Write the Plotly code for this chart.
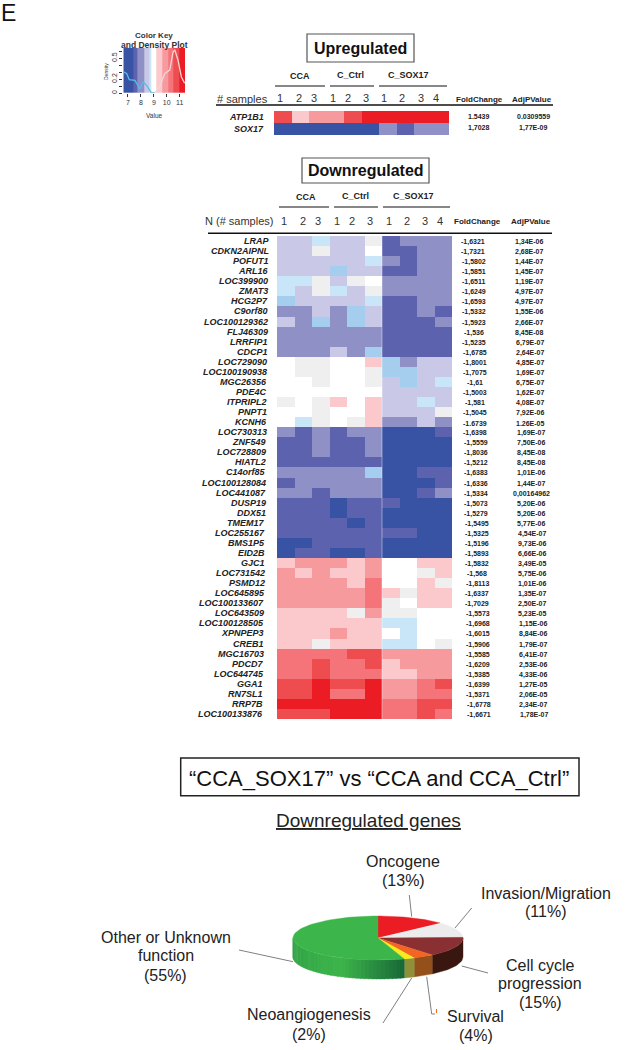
import numpy as np
import plotly.graph_objects as go

FONT = "Liberation Sans"
INK = "#222222"

# ---------- data ----------
palette = ["#3953a4", "#5c62ad", "#8e90c6", "#c9c9e7", "#a5cdee", "#c8e6f8", "#ffffff",
           "#efefef", "#fbc8cc", "#f79a9e", "#f4747a", "#ef4c50", "#ec1c24"]

sample_labels = ["1", "2", "3", "1", "2", "3", "1", "2", "3", "4"]
group_labels = ["CCA", "C_Ctrl", "C_SOX17"]

up_genes = ["ATP1B1", "SOX17"]
up_fold = ["1.5439", "1,7028"]
up_adj = ["0.0309559", "1,77E-09"]
up_levels = [
    [5, 2, 3, 3, 5, 6, 6, 6, 6, 6],
    [-6, -6, -6, -6, -6, -6, -4, -5, -4, -4],
]

down_genes = ["LRAP", "CDKN2AIPNL", "POFUT1", "ARL16", "LOC399900", "ZMAT3", "HCG2P7", "C9orf80",
              "LOC100129362", "FLJ46309", "LRRFIP1", "CDCP1", "LOC729090", "LOC100190938",
              "MGC26356", "PDE4C", "ITPRIPL2", "PNPT1", "KCNH6", "LOC730313", "ZNF549", "LOC728809",
              "HIATL2", "C14orf85", "LOC100128084", "LOC441087", "DUSP19", "DDX51", "TMEM17",
              "LOC255167", "BMS1P5", "EID2B", "GJC1", "LOC731542", "PSMD12", "LOC645895",
              "LOC100133607", "LOC643509", "LOC100128505", "XPNPEP3", "CREB1", "MGC16703", "PDCD7",
              "LOC644745", "GGA1", "RN7SL1", "RRP7B", "LOC100133876"]
down_fold = ["-1,6321", "-1,7321", "-1,5802", "-1,5851", "-1,6511", "-1,6249", "-1,6593", "-1,5332",
             "-1,5923", "-1,536", "-1,5235", "-1,6785", "-1,8001", "-1,7075", "-1,61", "-1,5003",
             "-1,581", "-1,5045", "-1.6739", "-1,6398", "-1,5559", "-1,8036", "-1,5212", "-1,6383",
             "-1,6336", "-1,5334", "-1,5073", "-1,5279", "-1,5495", "-1,5325", "-1,5196", "-1,5893",
             "-1,5832", "-1,568", "-1,8113", "-1,6337", "-1,7029", "-1,5573", "-1,6968", "-1,6015",
             "-1,5906", "-1,5585", "-1,6209", "-1,5385", "-1,6399", "-1,5371", "-1,6778", "-1,6671"]
down_adj = ["1,34E-06", "2,68E-07", "1,44E-07", "1,45E-07", "1,19E-07", "4,97E-07", "4,97E-07",
            "1,55E-06", "2,66E-07", "8,45E-08", "6,79E-07", "2,64E-07", "4,85E-07", "1,69E-07",
            "6,75E-07", "1,62E-07", "4,08E-07", "7,92E-06", "1.26E-05", "1,69E-07", "7,50E-06",
            "8,45E-08", "8,45E-08", "1,01E-06", "1,44E-07", "0,00164962", "5,20E-06", "5,20E-06",
            "5,77E-06", "4,54E-07", "9,73E-06", "6,66E-06", "3,49E-05", "5,75E-06", "1,01E-06",
            "1,35E-07", "2,50E-07", "5,23E-05", "1,15E-06", "8,84E-06", "1,79E-07", "6,41E-07",
            "2,53E-06", "4,33E-06", "1,27E-05", "2,06E-05", "2,34E-07", "1,78E-07"]
down_levels = [
    [-3, -3, -1, -3, -3, 1, -5, -4, -4, -4],
    [-3, -3, 1, -3, -3, 0, -5, -5, -4, -4],
    [-3, -3, -3, -3, -3, -1, -4, -5, -4, -4],
    [-3, -3, -3, -2, -3, -3, -5, -5, -4, -4],
    [-1, -1, 1, -3, 1, 0, -4, -4, -4, -4],
    [-1, -3, 1, -1, -3, 1, -4, -4, -4, -4],
    [-2, -3, -3, -3, -3, -1, -5, -5, -4, -4],
    [-4, -4, -3, -4, -2, -3, -5, -5, -4, -5],
    [-3, -4, -2, -4, -2, -3, -5, -5, -5, -4],
    [-4, -4, -4, -4, -4, -4, -5, -5, -5, -5],
    [-4, -4, -4, -4, -4, -4, -5, -5, -5, -5],
    [-4, -4, -4, -3, -4, -2, -5, -5, -5, -5],
    [0, 1, 1, 0, 0, 2, -2, -4, -3, -3],
    [0, 1, 1, 0, 0, 1, -2, -2, -3, -3],
    [0, 0, 1, 0, 0, 1, -3, -2, -3, -1],
    [0, 0, 0, 0, 0, 0, -3, -3, -3, -3],
    [1, 0, 1, 2, 0, 2, -3, -3, -1, -3],
    [0, 0, 1, 0, 0, 2, -3, -3, -3, 1],
    [0, -1, 1, 0, 1, 2, -4, -4, -3, -4],
    [-4, -5, -4, -5, -4, -4, -6, -6, -6, -5],
    [-5, -5, -4, -5, -5, -4, -6, -6, -6, -6],
    [-5, -5, -4, -5, -5, -4, -6, -6, -6, -6],
    [-5, -5, -5, -5, -5, -5, -6, -6, -6, -6],
    [-4, -4, -4, -4, -4, -2, -6, -6, -5, -5],
    [-5, -4, -4, -4, -4, -4, -6, -6, -6, -5],
    [-4, -4, -5, -4, -4, -4, -6, -6, -5, -4],
    [-5, -5, -5, -6, -5, -5, -5, -6, -6, -6],
    [-5, -5, -5, -6, -5, -5, -6, -6, -6, -6],
    [-5, -5, -5, -5, -6, -5, -6, -6, -6, -6],
    [-5, -5, -5, -5, -5, -5, -5, -5, -6, -6],
    [-6, -6, -5, -5, -5, -5, -6, -6, -6, -6],
    [-6, -5, -5, -6, -6, -5, -6, -6, -6, -6],
    [2, 3, 3, 3, 2, 3, 0, 0, 2, 2],
    [3, 2, 3, 2, 2, 3, 0, 0, 1, 2],
    [3, 3, 3, 3, 2, 4, 0, 0, 2, 1],
    [3, 3, 3, 3, 3, 4, 2, 1, 2, 2],
    [3, 3, 3, 3, 3, 4, 1, 0, 2, 2],
    [2, 2, 2, 2, 1, 3, 1, 1, 0, 0],
    [2, 2, 2, 2, 2, 2, -1, -1, 0, 0],
    [2, 2, 2, 3, 2, 2, 0, -1, 0, 0],
    [2, 2, 1, 2, 2, 2, -1, -1, 0, 1],
    [4, 4, 4, 4, 5, 5, 3, 3, 3, 3],
    [4, 4, 5, 4, 4, 5, 2, 3, 3, 3],
    [4, 4, 5, 4, 4, 4, 2, 2, 3, 3],
    [5, 5, 6, 5, 5, 6, 3, 3, 4, 5],
    [5, 5, 6, 4, 4, 6, 3, 3, 4, 4],
    [6, 6, 6, 6, 6, 6, 4, 4, 5, 5],
    [5, 5, 5, 6, 6, 6, 4, 4, 5, 4],
]

key_edges = [6.64, 7.41, 7.74, 8.26, 8.64, 8.82, 9.2, 9.67, 10.1, 10.49, 10.95, 11.41]
key_levels = [-6, -5, -4, -3, -1, 0, 2, 3, 4, 5, 6]
density_low_x = [6.69, 6.9, 7.1, 7.54, 7.92, 8.18, 8.44, 8.82, 9.08]
density_low_y = [0.30, 0.28, 0.19, 0.18, 0.06, 0.16, 0.11, 0.0, 0.0]
density_high_x = [9.08, 9.46, 9.85, 10.23, 10.49, 10.62, 10.87, 11.13, 11.38]
density_high_y = [0.0, 0.09, 0.28, 0.33, 0.59, 0.62, 0.47, 0.23, 0.14]

pie_names = ["Oncogene", "Invasion/Migration", "Cell cycle progression", "Survival",
             "Neoangiogenesis", "Other or Unknown function"]
pie_values = [13, 11, 15, 4, 2, 55]
pie_top_colors = ["#ec1c24", "#ececec", "#8a2f32", "#f26522", "#f5ec1c", "#3cb54a"]
pie_side_colors = ["#a81218", "#9a9a9a", "#3a1610", "#94501a", "#8e9137", None]

# ---------- helpers ----------
W, H = 625, 1050
colorscale = []
for i, c in enumerate(palette):
    colorscale += [[i / len(palette), c], [(i + 1) / len(palette), c]]

def dom_x(a, b):
    return [a / W, b / W]

def dom_y(top, bottom):
    return [1 - bottom / H, 1 - top / H]

annotations, shapes = [], []

def text(x, y, s, size=9, bold=False, italic=False, anchor="center", color=INK, yref="y", angle=0):
    if italic:
        s = f"<i>{s}</i>"
    if bold:
        s = f"<b>{s}</b>"
    annotations.append(dict(x=x, y=y, xref="x", yref=yref, text=s, showarrow=False, xanchor=anchor,
                            yanchor="middle", textangle=angle,
                            font=dict(family=FONT, size=size, color=color),
                            borderpad=0, borderwidth=0))

def hline(x0, x1, y, width=1.2, color="#111111"):
    shapes.append(dict(type="line", xref="x", yref="y", x0=x0, x1=x1, y0=y, y1=y,
                       line=dict(color=color, width=width)))

def box(x0, y0, x1, y1, color="#555555", width=1.2):
    shapes.append(dict(type="rect", xref="x", yref="y", x0=x0, x1=x1, y0=y0, y1=y1,
                       line=dict(color=color, width=width), fillcolor="rgba(0,0,0,0)"))

def leader(xs, ys, color="#808080"):
    for i in range(len(xs) - 1):
        shapes.append(dict(type="line", xref="x", yref="y", x0=xs[i], x1=xs[i + 1], y0=ys[i], y1=ys[i + 1],
                           line=dict(color=color, width=1)))

fig = go.Figure()

# overlay in pixel units (pie and decorations live here)
layout = dict(
    xaxis=dict(domain=[0, 1], range=[0, W], visible=False, fixedrange=True),
    yaxis=dict(domain=[0, 1], range=[H, 0], visible=False, fixedrange=True),
)

# ---------- heatmaps ----------
def heatmap(levels, xa, ya, xdom, ydom):
    n = len(levels)
    fig.add_trace(go.Heatmap(z=levels, x=list(range(10)), y=list(range(n)), xaxis=xa, yaxis=ya,
                             colorscale=colorscale, zmin=-6.5, zmax=6.5, showscale=False, hoverinfo="skip"))
    suffix_x, suffix_y = "xaxis" + xa[1:], "yaxis" + ya[1:]
    layout[suffix_x] = dict(domain=dom_x(*xdom), range=[-0.5, 9.5], visible=False, anchor=ya, fixedrange=True)
    layout[suffix_y] = dict(domain=dom_y(*ydom), range=[n - 0.5, -0.5], visible=False, anchor=xa, fixedrange=True)

heatmap(up_levels, "x2", "y2", (274, 449), (111, 135))
heatmap(down_levels, "x3", "y3", (277, 452), (236, 719))
shapes.append(dict(type="line", xref="x3", yref="y3", x0=5.5, x1=5.5, y0=-0.5, y1=47.5,
                   line=dict(color="rgba(255,255,255,0.6)", width=0.7)))

# up block texts
text(360.5, 48, "Upregulated", size=16, bold=True, color="#111111")
box(307, 34, 414, 62)
for x, g, y in zip((300, 350, 408), group_labels, (76, 75, 75)):
    text(x, y, g, size=9, bold=True)
hline(275, 325, 86); hline(330, 374, 86); hline(379, 447, 86)
text(268, 98.7, "# samples", size=11, anchor="right", color="#333333")
for x, s in zip((280.3, 299, 314.3, 332.7, 348, 366.3, 384.3, 402.3, 420.7, 435.7), sample_labels):
    text(x, 98, s, size=11, color="#333333")
text(479, 99, "FoldChange", size=8, bold=True)
text(531.7, 99, "AdjPValue", size=8, bold=True)
hline(216, 553, 105, width=1.5)
for i, g in enumerate(up_genes):
    text(264, i, g, size=9, bold=True, italic=True, anchor="right", yref="y2")
for i, (f, a) in enumerate(zip(up_fold, up_adj)):
    text(478.5, i - 0.05, f, size=7, bold=True, yref="y2")
    text(533, i - 0.05, a, size=7, bold=True, yref="y2")

# down block texts
text(365.5, 170.5, "Downregulated", size=16, bold=True, color="#111111")
box(302, 158, 429, 183)
for x, g, y in zip((305.7, 355, 413), group_labels, (196.7, 195.7, 195.7)):
    text(x, y, g, size=9, bold=True)
hline(279, 329, 207); hline(334, 378, 207); hline(383, 450, 207)
text(273, 220.7, "N (# samples)", size=11, anchor="right", color="#333333")
for x, s in zip((284.3, 303, 318.3, 336.7, 352, 370.3, 388.7, 406.7, 425, 440), sample_labels):
    text(x, 220.5, s, size=11, color="#333333")
text(477.7, 221, "FoldChange", size=8, bold=True)
text(530.7, 221, "AdjPValue", size=8, bold=True)
hline(208, 552, 233.3, width=1.5)
last = len(down_genes) - 1
for i, g in enumerate(down_genes):
    text(269 - 6 * i / last, i, g, size=9, bold=True, italic=True, anchor="right", yref="y3")
for i, (f, a) in enumerate(zip(down_fold, down_adj)):
    text(473.3 + 5.4 * i / last, i + 0.1, f, size=7, bold=True, yref="y3")
    text(529 + 5 * i / last, i + 0.1, a, size=7, bold=True, yref="y3")

# ---------- colour key ----------
fig.add_trace(go.Heatmap(z=[key_levels], x=key_edges, y=[0, 0.65], xaxis="x4", yaxis="y4",
                         colorscale=colorscale, zmin=-6.5, zmax=6.5, showscale=False, hoverinfo="skip"))
fig.add_trace(go.Scatter(x=density_low_x, y=density_low_y, xaxis="x4", yaxis="y4", mode="lines",
                         line=dict(color="#58bbea", width=1.3), hoverinfo="skip"))
fig.add_trace(go.Scatter(x=density_high_x, y=density_high_y, xaxis="x4", yaxis="y4", mode="lines",
                         line=dict(color="#f3d5d5", width=1.3), hoverinfo="skip"))
key_dom_x, key_dom_y = dom_x(123.3, 185), dom_y(47.7, 93)
layout["xaxis4"] = dict(domain=key_dom_x, range=[6.64, 11.41], anchor="y4", tickvals=[7, 8, 9, 10, 11],
                        ticks="outside", ticklen=3, tickwidth=1, tickcolor="#333333", showgrid=False,
                        zeroline=False, showline=False, fixedrange=True,
                        tickfont=dict(family=FONT, size=7, color="#333333"))
layout["yaxis4"] = dict(domain=key_dom_y, range=[0, 0.65], anchor="x4", tickvals=[0, 0.2, 0.5],
                        ticktext=["0", "0.2", "0.5"], tickangle=-90, ticks="outside", ticklen=3, tickwidth=1,
                        tickcolor="#333333", showgrid=False, zeroline=False, showline=False, fixedrange=True,
                        minor=dict(dtick=0.1, ticks="outside", ticklen=3, tickcolor="#333333"),
                        tickfont=dict(family=FONT, size=7, color="#333333"))
text(154, 35, "Color Key", size=8, bold=True, color="#333333")
text(154, 45, "and Density Plot", size=8.5, bold=True, color="#333333")
text(154, 115.5, "Value", size=6.5, color="#333333")
text(106, 72, "Density", size=5, color="#333333", angle=-90)

# ---------- 3D pie from values ----------
cx, cy, rx, ry, depth = 378.0, 938.0, 85.0, 22.0, 19.0

def px_pt(t_deg, dy=0.0):
    t = np.radians(t_deg)
    return cx + rx * np.sin(t), cy - ry * np.cos(t) + dy

def polygon(xs, ys, color):
    fig.add_trace(go.Scatter(x=list(xs) + [xs[0]], y=list(ys) + [ys[0]], xaxis="x", yaxis="y", mode="lines",
                             fill="toself", fillcolor=color, line=dict(color=color, width=0.4), hoverinfo="skip"))

def side(t0, t1, color):
    ts = np.linspace(t0, t1, 24)
    ux, uy = px_pt(ts)
    lx, ly = px_pt(ts[::-1], depth)
    polygon(np.r_[ux, lx], np.r_[uy, ly], color)

def mix(a, b, f):
    return "rgb(%d,%d,%d)" % tuple(round(a[k] + (b[k] - a[k]) * f) for k in range(3))

edges = np.r_[0, np.cumsum(pie_values)] * 3.6
for i in range(len(pie_values)):
    t0, t1 = max(edges[i], 90), min(edges[i + 1], 270)
    if t1 <= t0:
        continue
    if pie_side_colors[i] is not None:
        side(t0, t1, pie_side_colors[i])
    else:
        dark, mid, edge = (24, 104, 56), (60, 181, 74), (48, 160, 70)
        steps = np.linspace(t0, t1, 41)
        for a, b in zip(steps[:-1], steps[1:]):
            m = (a + b) / 2
            pivot = 205.0
            col = mix(dark, mid, (m - t0) / (pivot - t0)) if m < pivot else mix(mid, edge, (m - pivot) / (t1 - pivot))
            side(a, b + 0.4, col)
for i in range(len(pie_values)):
    ts = np.linspace(edges[i], edges[i + 1], 60)
    x, y = px_pt(ts)
    polygon(np.r_[cx, x], np.r_[cy, y], pie_top_colors[i])

leader([409.3, 411.7], [895, 916.7])
leader([471.7, 455], [908, 928])
leader([488, 461.7], [973, 966])
leader([426.7, 431.7, 435], [976.7, 1014, 1014])
leader([411.7, 383], [978, 1023])
leader([239, 293], [950, 961.7])
shapes.append(dict(type="line", xref="x", yref="y", x0=436.5, x1=436.5, y0=1009, y1=1013,
                   line=dict(color="#f26522", width=1)))

pie_lines = [
    (403, 861, "Oncogene"), (403, 880, "(13%)"),
    (545.7, 893, "Invasion/Migration"), (545.7, 911.5, "(11%)"),
    (165.7, 937, "Other or Unknown"), (165.7, 955.5, "function"), (165.7, 975, "(55%)"),
    (540, 965, "Cell cycle"), (540, 983, "progression"), (540, 1002, "(15%)"),
    (309, 1014, "Neoangiogenesis"), (309, 1034, "(2%)"),
    (475.7, 1016, "Survival"), (475.7, 1035.7, "(4%)"),
]
for x, y, s in pie_lines:
    text(x, y, s, size=16, color="#222222")

# headings
text(8, 13, "E", size=23, color="#111111")
box(180.7, 758, 579, 795.7, color="#222222", width=1.5)
text(378.5, 778, "“CCA_SOX17” vs “CCA and CCA_Ctrl”", size=22, color="#111111")
text(368.6, 820, "<u>Downregulated genes</u>", size=19, color="#222222")

fig.update_layout(
    width=W, height=H, margin=dict(l=0, r=0, t=0, b=0), showlegend=False,
    paper_bgcolor="#ffffff", plot_bgcolor="rgba(0,0,0,0)",
    annotations=annotations, shapes=shapes, hovermode=False, **layout,
)
fig.write_html("out.html", config=dict(displayModeBar=False),
               post_script="document.body.style.margin='0';")
